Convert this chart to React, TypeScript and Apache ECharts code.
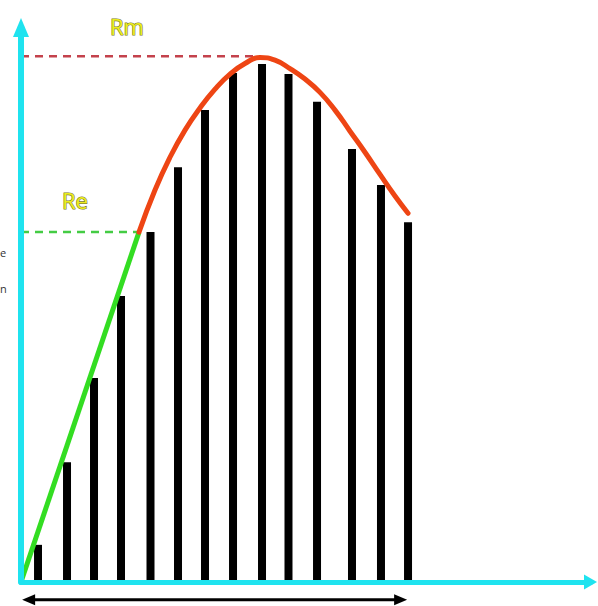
import React, { useEffect, useRef } from "react";
import * as echarts from "echarts";

// Strain positions of the measuring bars and the load read at each one
const barX = [2.99, 8.08, 12.82, 17.56, 22.74, 27.57, 32.31, 37.23, 42.32, 46.97, 51.98, 58.12, 63.21, 67.96];
const barY = [6.7, 21.6, 36.8, 51.6, 63.1, 74.8, 85.1, 91.8, 93.4, 91.6, 86.6, 78.1, 71.6, 64.9];

// Elastic (linear) part of the curve
const elasticX = [0, 20.72];
const elasticY = [0, 63.1];

// Plastic part of the curve
const plasticX = [20.72, 23.53, 26.16, 28.8, 31.43, 34.07, 36.7, 39.33, 41.97, 44.6, 47.23, 49.87, 52.5, 55.14, 57.77, 60.4, 63.04, 65.67, 67.96];
const plasticY = [63.1, 70.7, 76.6, 81.5, 85.5, 88.9, 91.6, 93.5, 94.6, 94.1, 92.6, 90.7, 88.3, 85.1, 81.3, 77.5, 73.5, 69.6, 66.5];

// Characteristic levels
const Re = 63.1;
const Rm = 94.8;
const RmX = 41.97;
const levelLabels = ["Re", "Rm"];
const labelAnchors = [
  [9.48, 68.9],
  [18.6, 100.3],
];

// Span arrow under the x axis
const spanStart = 0.2;
const spanEnd = 67.8;
const spanY = -3.2;

const CYAN = "#1fe3ef";

export default function App() {
  const ref = useRef<HTMLDivElement>(null);

  useEffect(() => {
    if (!ref.current) return;
    const chart = echarts.init(ref.current, null, { renderer: "svg" });
    const axisCommon = {
      type: "value" as const,
      min: 0,
      max: 100,
      z: 10,
      axisTick: { show: false },
      axisLabel: { show: false },
      splitLine: { show: false },
    };
    const option: any = {
      animation: false,
      backgroundColor: "#ffffff",
      grid: { left: 21, right: 7.5, top: 27.5, bottom: 24 },
      xAxis: {
        ...axisCommon,
        axisLine: {
          show: true,
          symbol: ["none", "triangle"],
          symbolSize: [15, 13],
          lineStyle: { color: CYAN, width: 5 },
        },
      },
      yAxis: {
        ...axisCommon,
        axisLine: {
          show: true,
          symbol: ["none", "triangle"],
          symbolSize: [16, 19],
          lineStyle: { color: CYAN, width: 6 },
        },
      },
      series: [
        {
          type: "bar",
          data: barX.map((x, i) => [x, barY[i]]),
          barWidth: 8,
          itemStyle: { color: "#000000" },
          z: 2,
        },
        {
          type: "line",
          data: [
            [0, Re],
            [elasticX[1], Re],
          ],
          symbol: "none",
          lineStyle: { color: "#44cc44", width: 2.5, type: [8, 6] },
          z: 3,
        },
        {
          type: "line",
          data: [
            [0, Rm],
            [RmX, Rm],
          ],
          symbol: "none",
          lineStyle: { color: "#c4424c", width: 2.5, type: [8, 6] },
          z: 3,
        },
        {
          type: "line",
          data: elasticX.map((x, i) => [x, elasticY[i]]),
          symbol: "none",
          lineStyle: { color: "#33dd22", width: 5 },
          z: 4,
        },
        {
          type: "line",
          data: plasticX.map((x, i) => [x, plasticY[i]]),
          symbol: "none",
          smooth: true,
          lineStyle: { color: "#ee4514", width: 5, cap: "round" },
          z: 4,
        },
      ],
    };
    chart.setOption(option);

    const toPx = (p: number[]) => chart.convertToPixel({ gridIndex: 0 }, p) as number[];
    const [ax0, ay] = toPx([spanStart, spanY]);
    const [ax1] = toPx([spanEnd, spanY]);
    const head = 13;
    const half = 5.5;

    const labelGraphics = levelLabels.map((t, i) => {
      const [lx, ly] = toPx(labelAnchors[i]);
      return {
        type: "text",
        z: 20,
        style: {
          text: t,
          x: lx,
          y: ly,
          align: "center",
          verticalAlign: "middle",
          fontSize: 22,
          fontFamily: "Open Sans, sans-serif",
          fill: "#ecec1e",
          stroke: "#7a7a30",
          lineWidth: 1.2,
        },
      };
    });

    chart.setOption({
      graphic: [
        {
          type: "line",
          z: 20,
          shape: { x1: ax0 + head - 2, y1: ay, x2: ax1 - head + 2, y2: ay },
          style: { stroke: "#000000", lineWidth: 3 },
        },
        {
          type: "polygon",
          z: 20,
          shape: { points: [[ax0, ay], [ax0 + head, ay - half], [ax0 + head, ay + half]] },
          style: { fill: "#000000" },
        },
        {
          type: "polygon",
          z: 20,
          shape: { points: [[ax1, ay], [ax1 - head, ay - half], [ax1 - head, ay + half]] },
          style: { fill: "#000000" },
        },
        ...labelGraphics,
        {
          type: "text",
          z: 20,
          style: { text: "e", x: 0, y: 252, verticalAlign: "middle", fontSize: 11, fontFamily: "Open Sans, sans-serif", fill: "#333333" },
        },
        {
          type: "text",
          z: 20,
          style: { text: "n", x: 0, y: 288, verticalAlign: "middle", fontSize: 11, fontFamily: "Open Sans, sans-serif", fill: "#333333" },
        },
      ],
    });

    return () => chart.dispose();
  }, []);

  return (
    <div
      ref={ref}
      style={{ position: "absolute", left: 0, top: 0, width: 598, height: 606 }}
    />
  );
}
